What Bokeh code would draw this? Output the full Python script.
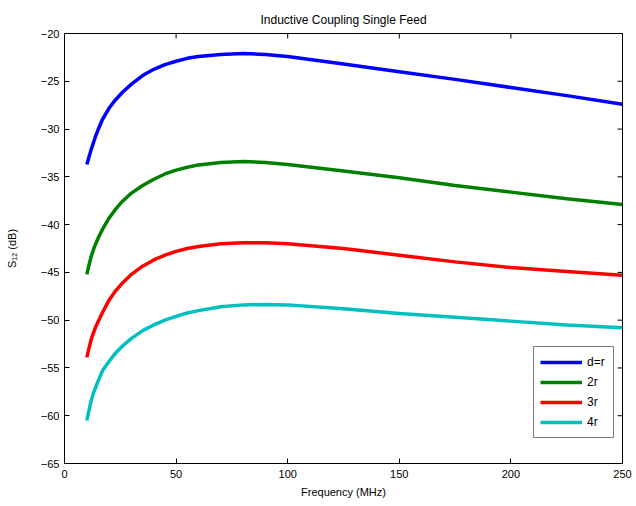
import math
from bokeh.plotting import figure
from bokeh.models import Range1d, FixedTicker, Legend, LegendItem
from bokeh.embed import file_html
from bokeh.resources import INLINE

freq = [10, 11, 12, 13, 14, 15, 17, 20, 23, 26, 30, 35, 40, 45, 50, 55, 60, 70, 80, 90, 100,
        125, 150, 175, 200, 225, 250]
s12_d_r = [-33.7, -32.9, -32.1, -31.4, -30.7, -30.1, -29.0, -27.8, -26.9, -26.15, -25.3, -24.4, -23.75,
           -23.25, -22.9, -22.6, -22.4, -22.2, -22.1, -22.2, -22.4, -23.2, -24.0, -24.8, -25.65, -26.5, -27.4]
s12_2r = [-45.2, -44.2, -43.3, -42.6, -42.0, -41.45, -40.5, -39.3, -38.35, -37.55, -36.7, -35.9, -35.25,
          -34.7, -34.3, -34.0, -33.75, -33.5, -33.4, -33.5, -33.7, -34.4, -35.1, -35.9, -36.6, -37.3, -37.9]
s12_3r = [-53.9, -52.9, -52.0, -51.3, -50.7, -50.2, -49.2, -47.9, -46.9, -46.1, -45.2, -44.35, -43.7,
          -43.2, -42.8, -42.5, -42.3, -42.0, -41.9, -41.9, -42.0, -42.5, -43.2, -43.9, -44.5, -44.9, -45.3]
s12_4r = [-60.5, -59.4, -58.4, -57.6, -57.0, -56.4, -55.3, -54.3, -53.4, -52.7, -51.9, -51.1, -50.5,
          -50.0, -49.6, -49.25, -49.0, -48.6, -48.4, -48.35, -48.4, -48.8, -49.3, -49.7, -50.1, -50.5, -50.8]

series_labels = ["d=r", "2r", "3r", "4r"]
series_colors = ["#0000ff", "#008000", "#ff0000", "#00bfbf"]
x_ticks = [0, 50, 100, 150, 200, 250]
y_ticks = [-65, -60, -55, -50, -45, -40, -35, -30, -25, -20]

FONT = "Liberation Sans"

p = figure(width=636, height=506, output_backend="svg", toolbar_location=None,
           x_range=Range1d(x_ticks[0], x_ticks[-1]), y_range=Range1d(y_ticks[0], y_ticks[-1]),
           title="Inductive Coupling Single Feed",
           min_border_left=64, min_border_right=14, min_border_top=33, min_border_bottom=43)
p.background_fill_color = "white"
p.border_fill_color = "white"
p.outline_line_color = "black"
p.outline_line_width = 1
p.grid.visible = False

p.title.align = "center"
p.title.text_font = FONT
p.title.text_font_size = "12px"
p.title.text_font_style = "normal"
p.title.text_color = "black"
p.title.standoff = 13


def style_axis(ax, ticks):
    ax.ticker = FixedTicker(ticks=ticks)
    ax.major_tick_in = 5
    ax.major_tick_out = 0
    ax.minor_tick_line_color = None
    ax.axis_line_color = "black"
    ax.major_tick_line_color = "black"
    ax.major_label_text_font = FONT
    ax.major_label_text_font_size = "11px"
    ax.major_label_text_color = "black"
    ax.axis_label_text_font = FONT
    ax.axis_label_text_font_size = "11px"
    ax.axis_label_text_font_style = "normal"
    ax.axis_label_text_color = "black"


style_axis(p.xaxis[0], x_ticks)
style_axis(p.yaxis[0], y_ticks)
p.xaxis[0].axis_label = "Frequency (MHz)"
p.xaxis[0].major_label_standoff = 6
p.xaxis[0].axis_label_standoff = 5
p.yaxis[0].axis_label = "S\u2081\u2082 (dB)"
p.yaxis[0].major_label_standoff = 5
p.yaxis[0].axis_label_standoff = 20

# inward tick marks on the top and right edges of the box (MATLAB style)
p.scatter(x_ticks, [y_ticks[-1]] * len(x_ticks), marker="dash", size=10, angle=math.pi / 2,
          line_color="black", line_width=1)
p.scatter([x_ticks[-1]] * len(y_ticks), y_ticks, marker="dash", size=10,
          line_color="black", line_width=1)

items = []
for ys, lab, col in zip([s12_d_r, s12_2r, s12_3r, s12_4r], series_labels, series_colors):
    r = p.line(freq, ys, line_color=col, line_width=3.5)
    items.append(LegendItem(label=lab, renderers=[r]))

legend = Legend(items=items, location=(469, 25))
legend.border_line_color = "black"
legend.border_line_width = 1
legend.background_fill_color = "white"
legend.background_fill_alpha = 1
legend.glyph_width = 42
legend.glyph_height = 18
legend.label_height = 18
legend.spacing = 2
legend.padding = 6
legend.margin = 0
legend.label_standoff = 5
legend.label_text_font = FONT
legend.label_text_font_size = "12px"
legend.label_text_color = "black"
p.add_layout(legend, "center")

open("out.html", "w").write(file_html(p, INLINE))
